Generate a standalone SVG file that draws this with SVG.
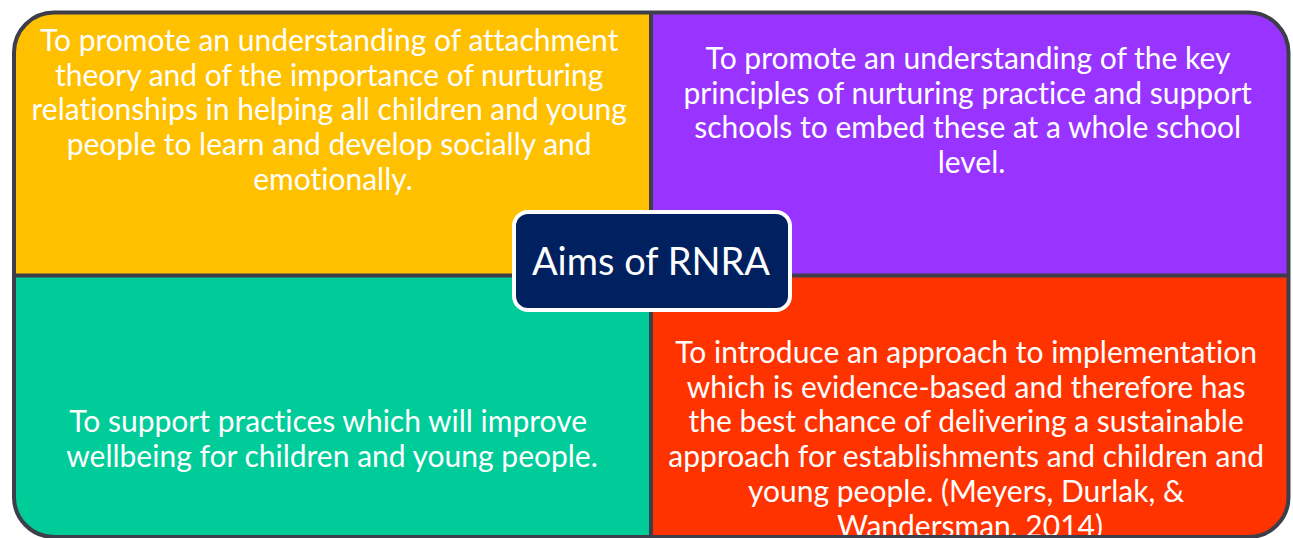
<svg xmlns="http://www.w3.org/2000/svg" width="1293" height="538" viewBox="0 0 1293 538">
  <defs>
    <clipPath id="frame-clip">
      <rect x="14" y="12.5" width="1274.5" height="524.5" rx="40" ry="40"/>
    </clipPath>
    <style>
      .aim { font-family: "Lato", "Open Sans", sans-serif; font-size: 30px; fill: #ffffff; text-anchor: middle; font-variant-ligatures: none; }
      .title { font-family: "Lato", "Open Sans", sans-serif; font-size: 38px; fill: #ffffff; text-anchor: middle; }
      .rule { stroke: #3e3e4a; stroke-width: 4; fill: none; }
    </style>
  </defs>

  <rect width="1293" height="538" fill="#ffffff"/>

  <!-- four quadrants, clipped to the rounded frame -->
  <g clip-path="url(#frame-clip)">
    <g id="aim-attachment">
      <rect x="0" y="0" width="651" height="275.5" fill="#FFC000"/>
      <text class="aim" y="51">
        <tspan x="333">To promote an understanding of attachment</tspan>
        <tspan x="333" dy="34.7">theory and of the importance of nurturing</tspan>
        <tspan x="333" dy="34.7">relationships in helping all children and young</tspan>
        <tspan x="333" dy="34.7">people to learn and develop socially and</tspan>
        <tspan x="333" dy="34.7">emotionally.</tspan>
      </text>
    </g>
    <g id="aim-principles">
      <rect x="651" y="0" width="642" height="275.5" fill="#9933FF"/>
      <text class="aim" y="69">
        <tspan x="971.5">To promote an understanding of the key</tspan>
        <tspan x="971.5" dy="34.7">principles of nurturing practice and support</tspan>
        <tspan x="971.5" dy="34.7">schools to embed these at a whole school</tspan>
        <tspan x="971.5" dy="34.7">level.</tspan>
      </text>
    </g>
    <g id="aim-wellbeing">
      <rect x="0" y="275.5" width="651" height="263" fill="#00CC99"/>
      <text class="aim" y="432">
        <tspan x="332">To support practices which will improve</tspan>
        <tspan x="332" dy="34.7">wellbeing for children and young people.</tspan>
      </text>
    </g>
    <g id="aim-implementation">
      <rect x="651" y="275.5" width="642" height="263" fill="#FF3300"/>
      <text class="aim" y="363">
        <tspan x="970">To introduce an approach to implementation</tspan>
        <tspan x="970" dy="34.7">which is evidence-based and therefore has</tspan>
        <tspan x="970" dy="34.7">the best chance of delivering a sustainable</tspan>
        <tspan x="970" dy="34.7">approach for establishments and children and</tspan>
        <tspan x="970" dy="34.7">young people. (Meyers, Durlak, &amp;</tspan>
        <tspan x="970" dy="34.7">Wandersman, 2014)</tspan>
      </text>
    </g>
  </g>

  <!-- dividing rules and outer frame -->
  <g id="dividers">
    <line class="rule" x1="651" y1="12" x2="651" y2="537"/>
    <line class="rule" x1="14" y1="275.5" x2="1288.5" y2="275.5"/>
    <rect class="rule" x="14" y="12.5" width="1274.5" height="524.5" rx="40" ry="40"/>
  </g>

  <!-- central title badge -->
  <g id="title">
    <rect x="514" y="212" width="276" height="98" rx="14" ry="14" fill="#002060" stroke="#ffffff" stroke-width="4"/>
    <text class="title" x="651" y="275">Aims of RNRA</text>
  </g>
</svg>
